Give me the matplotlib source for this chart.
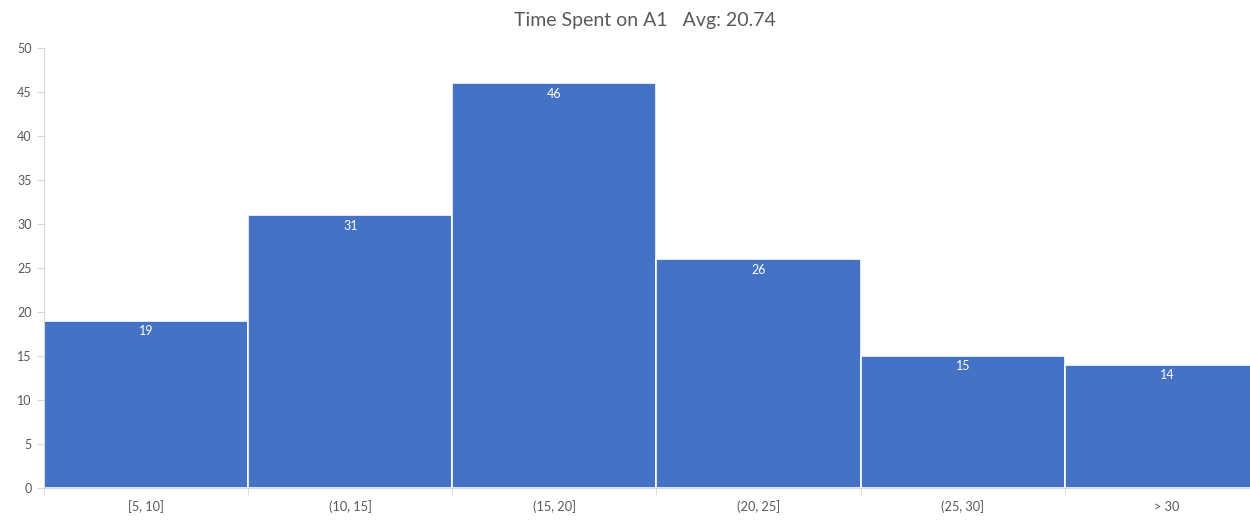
import matplotlib.pyplot as plt

bins = ["[5, 10]", "(10, 15]", "(15, 20]", "(20, 25]", "(25, 30]", "> 30"]
counts = [19, 31, 46, 26, 15, 14]
avg = 20.74

plt.rcParams['font.family'] = ['Lato', 'DejaVu Sans']

fig = plt.figure(figsize=(12.5, 5.24), dpi=100)
# last bin runs past the right edge of the picture, like the source
ax = fig.add_axes([0.0352, 0.0687, 0.980, 0.8393])

xs = list(range(len(bins)))
bars = ax.bar(xs, counts, width=1.0, align='edge', color='#4472C4',
              edgecolor='white', linewidth=1.2)

for x, c in zip(xs, counts):
    ax.text(x + 0.5, c - 0.5, str(c), ha='center', va='top',
            color='white', fontsize=9)

ax.set_xlim(0, len(bins))
ax.set_ylim(0, 50)
ax.set_yticks(range(0, 51, 5))
ax.set_xticks([x + 0.5 for x in xs])
ax.set_xticklabels(bins)
ax.set_xticks(range(len(bins) + 1), minor=True)
ax.tick_params(axis='x', which='major', length=0, pad=9, labelsize=9.2, labelcolor='#595959')
ax.tick_params(axis='x', which='minor', length=5, color='#D9D9D9')
ax.tick_params(axis='y', length=5, color='#D9D9D9', labelsize=9, labelcolor='#595959', pad=4)

for s in ['top', 'right']:
    ax.spines[s].set_visible(False)
for s in ['left', 'bottom']:
    ax.spines[s].set_color('#D9D9D9')

fig.text(0.516, 0.961, f"Time Spent on A1   Avg: {avg}", ha='center', va='center',
         fontsize=14, color='#595959')

fig.savefig('out.png', dpi=100)
